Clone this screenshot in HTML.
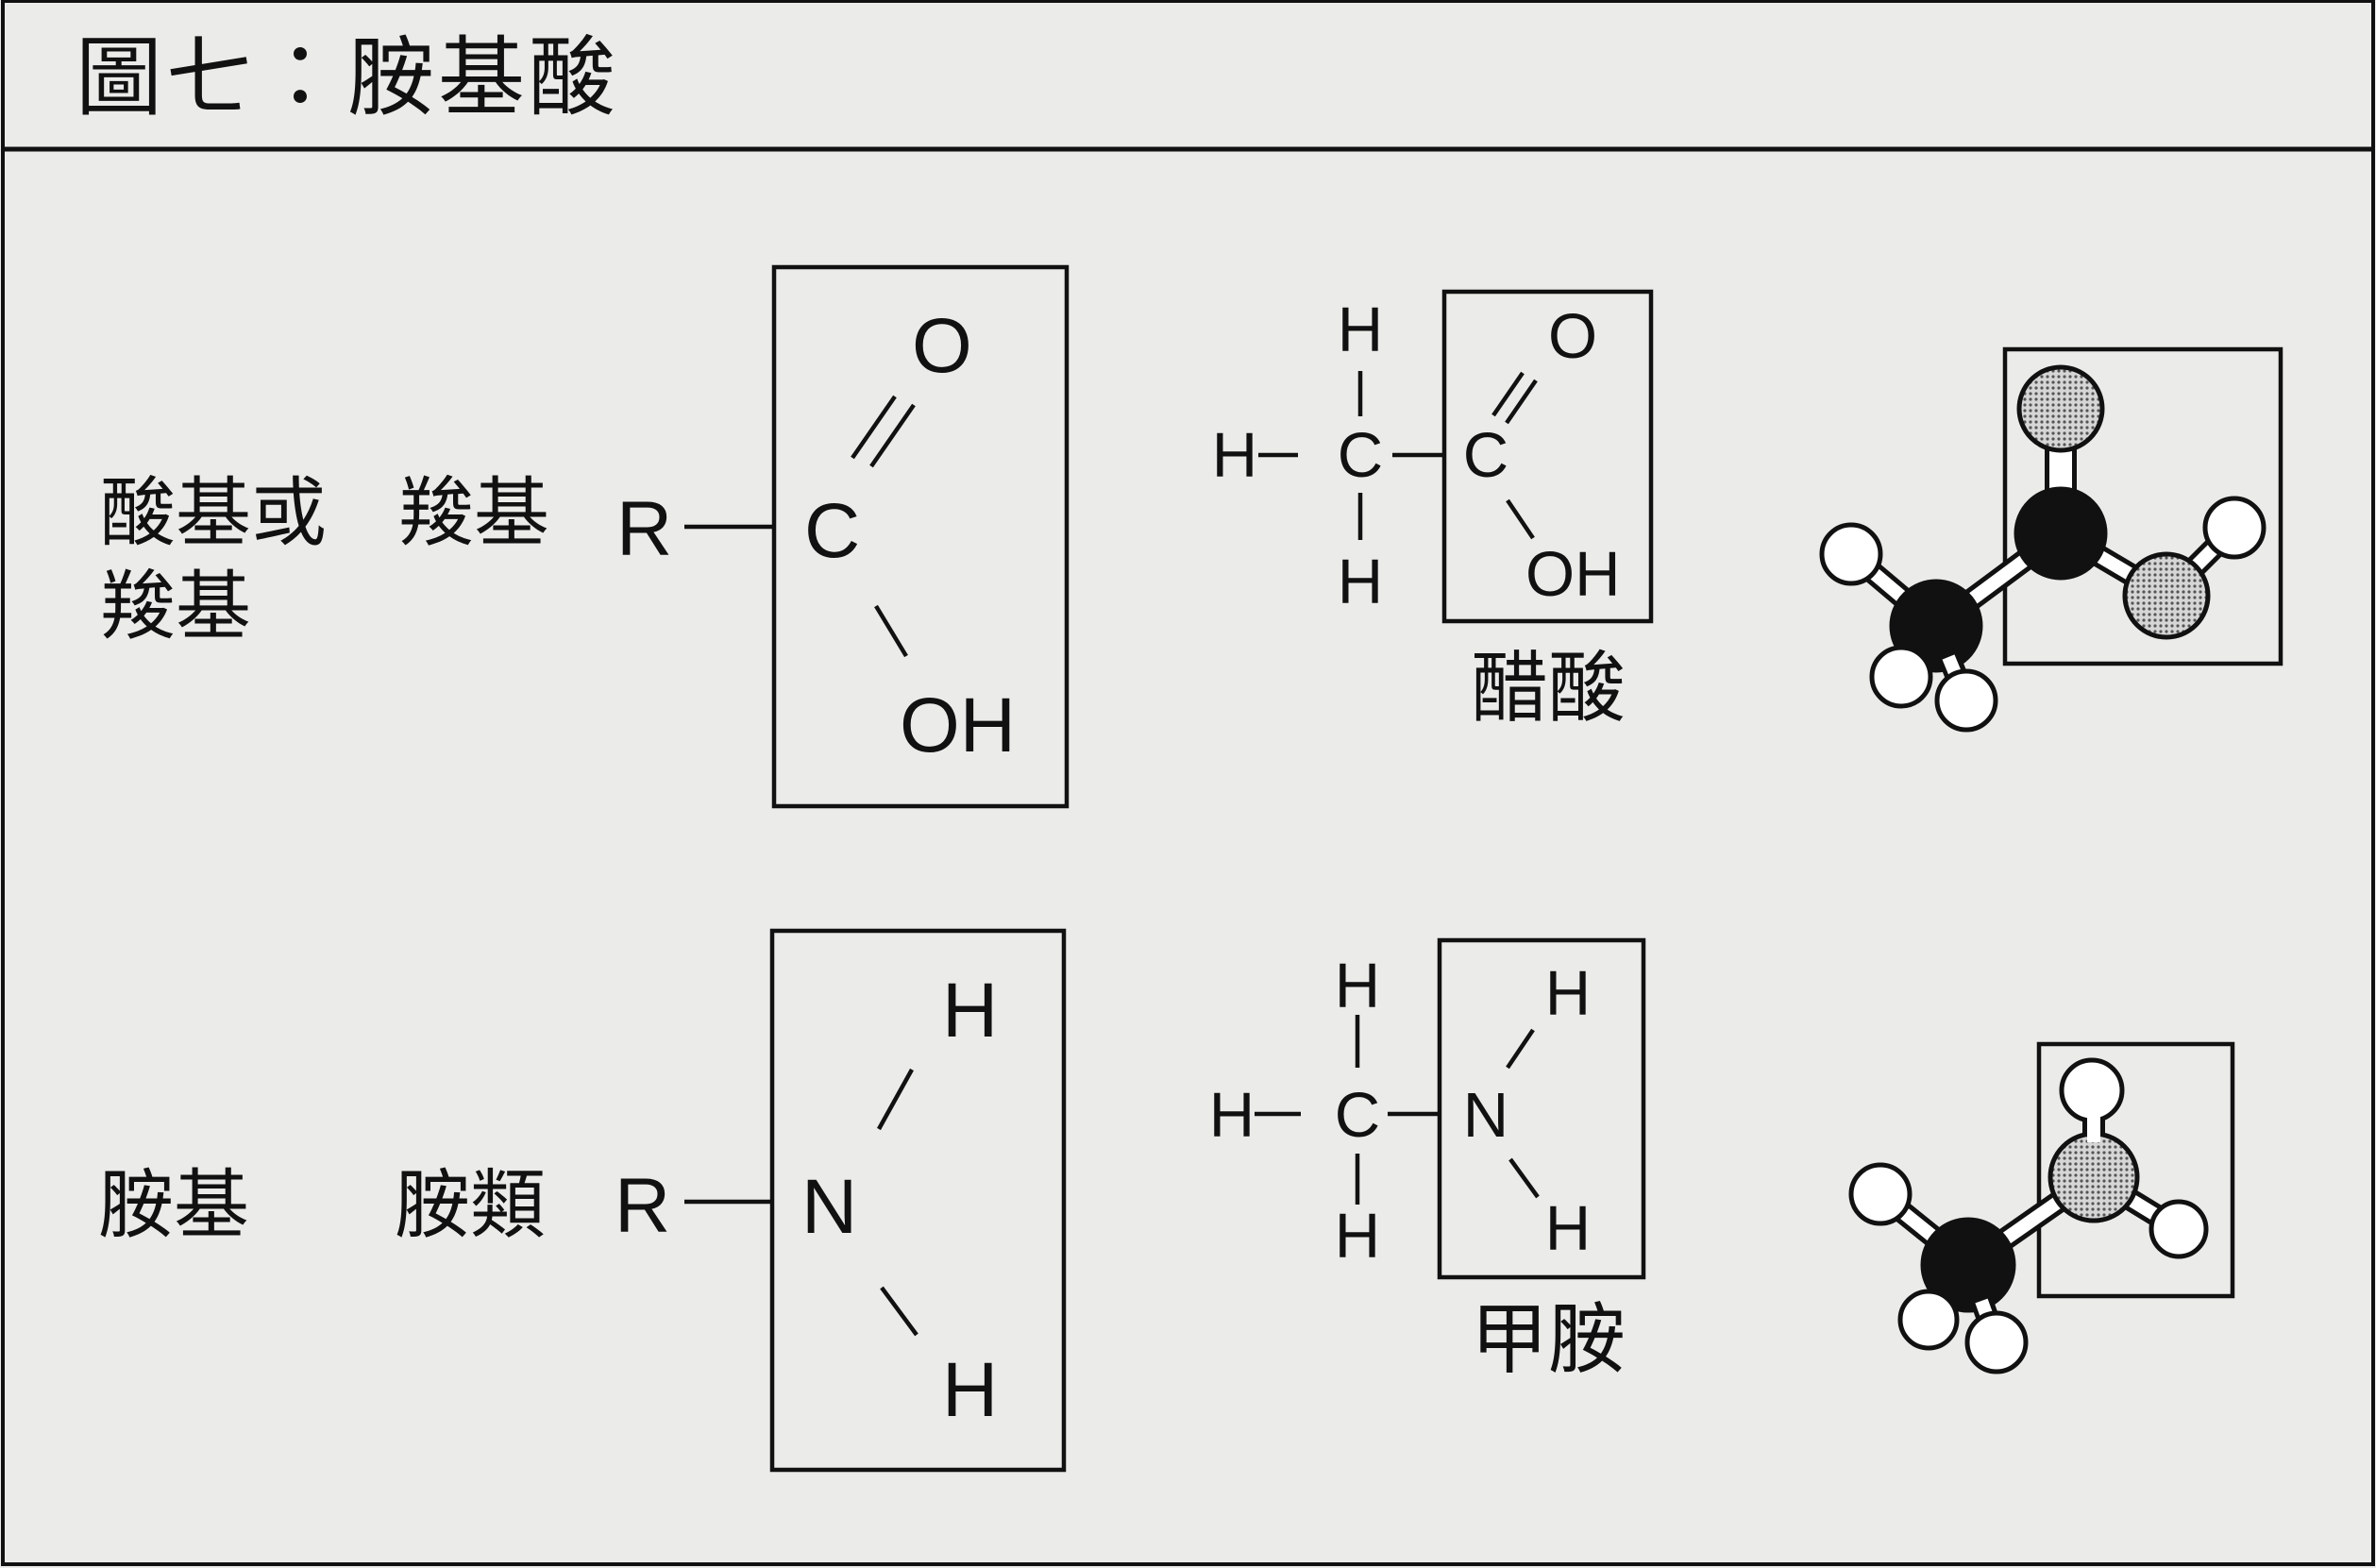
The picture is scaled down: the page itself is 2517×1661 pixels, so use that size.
<!DOCTYPE html>
<html><head><meta charset="utf-8"><style>
html,body{margin:0;padding:0;background:#ebebe9;}
svg{display:block}
text{font-family:"Liberation Sans","Noto Sans CJK TC",sans-serif;fill:#111}
.cjk{font-family:"Noto Sans CJK TC","WenQuanYi Zen Hei",sans-serif}
</style></head><body>
<svg width="2517" height="1661" viewBox="0 0 2517 1661" xmlns="http://www.w3.org/2000/svg">
<defs>
<pattern id="dots" width="6" height="6" patternUnits="userSpaceOnUse">
<rect width="6" height="6" fill="#d6d6d6"/><circle cx="3" cy="3" r="1.6" fill="#555"/>
</pattern>
</defs>
<rect x="0" y="0" width="2517" height="1661" fill="#ebebe9"/>
<rect x="3" y="1" width="2511" height="1656" fill="none" stroke="#111" stroke-width="4"/>
<line x1="3" y1="158" x2="2514" y2="158" stroke="#111" stroke-width="5"/>
<text x="80" y="114" font-size="92" class="cjk" letter-spacing="4">圖七：胺基酸</text>

<g stroke="#111" stroke-width="4.5" fill="none">
<rect x="820" y="283" width="310" height="571"/>
<line x1="725" y1="558" x2="818" y2="558"/>
<line x1="903" y1="485" x2="948" y2="420"/>
<line x1="923" y1="494" x2="968" y2="429"/>
<line x1="928" y1="642" x2="960" y2="695"/>
<rect x="818" y="986" width="309" height="571"/>
<line x1="725" y1="1273" x2="818" y2="1273"/>
<line x1="931" y1="1196" x2="966" y2="1133"/>
<line x1="934" y1="1364" x2="971" y2="1414"/>
<rect x="1530" y="309" width="219" height="349"/>
<line x1="1441" y1="393" x2="1441" y2="441"/>
<line x1="1441" y1="522" x2="1441" y2="572"/>
<line x1="1333" y1="482" x2="1375" y2="482"/>
<line x1="1475" y1="482" x2="1530" y2="482"/>
<line x1="1582" y1="440" x2="1613" y2="395"/>
<line x1="1596" y1="448" x2="1627" y2="403"/>
<line x1="1597" y1="530" x2="1624" y2="570"/>
<rect x="1525" y="996" width="216" height="357"/>
<line x1="1438" y1="1075" x2="1438" y2="1131"/>
<line x1="1438" y1="1222" x2="1438" y2="1276"/>
<line x1="1329" y1="1180" x2="1378" y2="1180"/>
<line x1="1470" y1="1180" x2="1525" y2="1180"/>
<line x1="1597" y1="1131" x2="1624" y2="1091"/>
<line x1="1600" y1="1228" x2="1629" y2="1268"/>
<rect x="2124" y="370" width="292" height="333"/>
<rect x="2160" y="1106" width="205" height="267"/>
</g>

<g font-size="82">
<text x="653" y="588">R</text>
<text x="852" y="590">C</text>
<text x="966" y="394">O</text>
<text x="953" y="796">OH</text>
<text x="651" y="1305">R</text>
<text x="849" y="1306">N</text>
<text x="998" y="1098">H</text>
<text x="998" y="1500">H</text>
</g>
<g font-size="67">
<text x="1441" y="372" text-anchor="middle">H</text>
<text x="1308" y="505" text-anchor="middle">H</text>
<text x="1441" y="505" text-anchor="middle">C</text>
<text x="1574" y="505" text-anchor="middle">C</text>
<text x="1666" y="379" text-anchor="middle">O</text>
<text x="1616" y="631">OH</text>
<text x="1441" y="639" text-anchor="middle">H</text>
<text x="1438" y="1067" text-anchor="middle">H</text>
<text x="1305" y="1204" text-anchor="middle">H</text>
<text x="1438" y="1204" text-anchor="middle">C</text>
<text x="1574" y="1204" text-anchor="middle">N</text>
<text x="1661" y="1075" text-anchor="middle">H</text>
<text x="1661" y="1324" text-anchor="middle">H</text>
<text x="1438" y="1332" text-anchor="middle">H</text>
</g>
<g font-size="80">
<text x="106" y="571" class="cjk">酸基或</text>
<text x="106" y="670" class="cjk">羧基</text>
<text x="422" y="571" class="cjk">羧基</text>
<text x="104" y="1304" class="cjk">胺基</text>
<text x="418" y="1304" class="cjk">胺類</text>
<text x="1558" y="757" font-size="82" class="cjk">醋酸</text>
<text x="1558" y="1447" font-size="82" class="cjk">甲胺</text>
</g>

<g stroke="#111" stroke-width="5">
<line x1="2051" y1="663" x2="1961" y2="587" stroke-width="24"/><line x1="2051" y1="663" x2="1961" y2="587" stroke="#fff" stroke-width="14"/>
<line x1="2051" y1="663" x2="2183" y2="565" stroke-width="24"/><line x1="2051" y1="663" x2="2183" y2="565" stroke="#fff" stroke-width="14"/>
<line x1="2183" y1="433" x2="2183" y2="565" stroke-width="34"/><line x1="2183" y1="433" x2="2183" y2="565" stroke="#fff" stroke-width="24"/>
<line x1="2183" y1="565" x2="2295" y2="631" stroke-width="24"/><line x1="2183" y1="565" x2="2295" y2="631" stroke="#fff" stroke-width="14"/>
<line x1="2295" y1="631" x2="2367" y2="559" stroke-width="24"/><line x1="2295" y1="631" x2="2367" y2="559" stroke="#fff" stroke-width="14"/>
<circle cx="1961" cy="587" r="31" fill="#fff"/>
<circle cx="2367" cy="559" r="31" fill="#fff"/>
<circle cx="2183" cy="433" r="44" fill="url(#dots)"/>
<circle cx="2295" cy="631" r="44" fill="url(#dots)"/>
<circle cx="2183" cy="565" r="47" fill="#111"/>
<circle cx="2051" cy="663" r="47" fill="#111"/>
<line x1="2062" y1="690" x2="2083" y2="742" stroke-width="24"/><line x1="2064" y1="696" x2="2083" y2="742" stroke="#fff" stroke-width="14"/>
<circle cx="2014" cy="717" r="31" fill="#fff"/>
<circle cx="2083" cy="742" r="31" fill="#fff"/>
</g>

<g stroke="#111" stroke-width="5">
<line x1="2085" y1="1340" x2="1992" y2="1265" stroke-width="24"/><line x1="2085" y1="1340" x2="1992" y2="1265" stroke="#fff" stroke-width="14"/>
<line x1="2085" y1="1340" x2="2218" y2="1247" stroke-width="24"/><line x1="2085" y1="1340" x2="2218" y2="1247" stroke="#fff" stroke-width="14"/>
<line x1="2218" y1="1155" x2="2218" y2="1247" stroke-width="24"/><line x1="2218" y1="1155" x2="2218" y2="1247" stroke="#fff" stroke-width="14"/>
<line x1="2218" y1="1247" x2="2308" y2="1302" stroke-width="24"/><line x1="2218" y1="1247" x2="2308" y2="1302" stroke="#fff" stroke-width="14"/>
<circle cx="1992" cy="1265" r="31" fill="#fff"/>
<circle cx="2308" cy="1302" r="29" fill="#fff"/>
<circle cx="2216" cy="1155" r="32" fill="#fff"/>
<circle cx="2218" cy="1247" r="46" fill="url(#dots)"/>
<line x1="2218" y1="1170" x2="2218" y2="1210" stroke="#fff" stroke-width="14"/>
<circle cx="2085" cy="1340" r="48" fill="#111"/>
<line x1="2097" y1="1372" x2="2115" y2="1422" stroke-width="24"/><line x1="2099" y1="1378" x2="2115" y2="1422" stroke="#fff" stroke-width="14"/>
<circle cx="2043" cy="1398" r="30" fill="#fff"/>
<circle cx="2115" cy="1422" r="31" fill="#fff"/>
</g>
</svg>
</body></html>
